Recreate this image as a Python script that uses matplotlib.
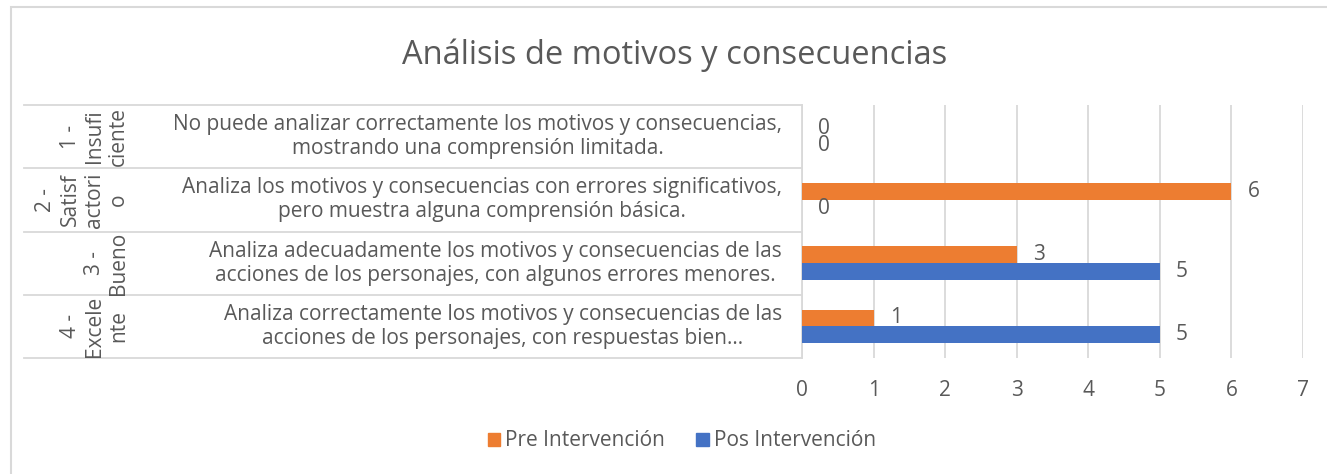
import matplotlib
matplotlib.use("Agg")
import matplotlib.pyplot as plt
import matplotlib.patches as mpatches
import numpy as np

plt.rcParams['font.family'] = ['Open Sans', 'DejaVu Sans']

# datos
niveles = ["1 -\nInsufi\nciente", "2 -\nSatisf\nactori\no", "3 -\nBueno", "4 -\nExcele\nnte"]
descripciones = [
    "No puede analizar correctamente los motivos y consecuencias,\nmostrando una comprensión limitada.",
    "Analiza los motivos y consecuencias con errores significativos,\npero muestra alguna comprensión básica.",
    "Analiza adecuadamente los motivos y consecuencias de las\nacciones de los personajes, con algunos errores menores.",
    "Analiza correctamente los motivos y consecuencias de las\nacciones de los personajes, con respuestas bien…",
]
pre = [0, 6, 3, 1]
pos = [0, 0, 5, 5]
series = ["Pre Intervención", "Pos Intervención"]
titulo = "Análisis de motivos y consecuencias"

naranja = '#ED7D31'
azul = '#4472C4'
gris = '#595959'
linea = '#D9D9D9'
fs = 15

W, H = 1327, 474
fig = plt.figure(figsize=(W/100, H/100), dpi=100)
ax = fig.add_axes([802/W, 1-358/H, 501/W, 253/H])

y = np.arange(len(pre))
h = 0.265
b1 = ax.barh(y - h/2, pre, height=h, color=naranja, zorder=3)
b2 = ax.barh(y + h/2, pos, height=h, color=azul, zorder=3)

for bars, vals in [(b1, pre), (b2, pos)]:
    for b, v in zip(bars, vals):
        ax.annotate(str(v), xy=(v, b.get_y() + b.get_height()/2),
                    xytext=(16, 0), textcoords='offset pixels',
                    ha='left', va='center', fontsize=fs, color=gris)

ax.set_xlim(0, 7)
ax.set_ylim(3.5, -0.5)
ax.set_xticks(range(8))
ax.set_yticks([])
ax.grid(axis='x', color=linea, lw=1.3, zorder=0)
for s in ['top', 'right', 'bottom']:
    ax.spines[s].set_visible(False)
ax.spines['left'].set_color(linea)
ax.spines['left'].set_linewidth(1.3)
ax.tick_params(axis='x', length=0, pad=16, labelsize=fs, labelcolor=gris)

# eje de categorias de dos niveles
tr = ax.get_yaxis_transform()
x_izq = (24 - 802) / 501
for yy in np.arange(-0.5, 4, 1):
    ax.plot([x_izq, 0], [yy, yy], color=linea, lw=1.3, transform=tr, clip_on=False)
for i in range(len(pre)):
    ax.text(-20/501, i, descripciones[i], transform=tr, ha='right', va='center',
            multialignment='center', fontsize=fs, color=gris, linespacing=1.2)
    ax.text((129 - 802)/501, i, niveles[i], transform=tr, ha='right', va='center',
            rotation=90, multialignment='center', fontsize=fs, color=gris,
            linespacing=1.2)

fig.text(675/W, 1-55/H, titulo, ha='center', va='center', fontsize=23.5, color=gris)

handles = [mpatches.Patch(color=naranja), mpatches.Patch(color=azul)]
fig.legend(handles, series, loc='center', bbox_to_anchor=(682/W, 1-441/H), ncol=2,
           frameon=False, fontsize=fs, labelcolor=gris, handlelength=0.6,
           handleheight=0.6, handletextpad=0.25, columnspacing=1.5)

fig.patches.append(mpatches.Rectangle((11/W, -0.1), 2, 1-7/H+0.1, transform=fig.transFigure,
                                      fill=False, ec=linea, lw=1.5))

fig.savefig('out.png', dpi=100, facecolor='white')
